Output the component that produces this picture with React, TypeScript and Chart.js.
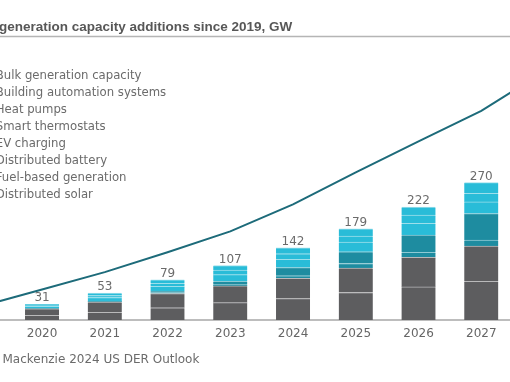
import React, { useEffect, useRef } from 'react';
import { Chart, registerables } from 'chart.js';

Chart.register(...registerables);

// ---- data ----
const years = ['2019', '2020', '2021', '2022', '2023', '2024', '2025', '2026', '2027', '2028'];
const distributedSolar = [null, 9, 15, 24, 34, 42, 54, 65, 76, null];
const fuelBasedGeneration = [null, 13, 20, 28, 33, 40, 48, 58, 69, null];
const distributedBattery = [null, 0.5, 1, 2, 3, 5, 9, 10, 12, null];
const evCharging = [null, 0.5, 1, 3, 6, 16, 23, 34, 52, null];
const smartThermostats = [null, 4, 7, 9, 13, 16, 19, 23, 23, null];
const heatPumps = [null, 2, 4, 6, 9, 11, 12, 16, 17, null];
const buildingAutomation = [null, 2, 5, 7, 9, 12, 14, 16, 21, null];
const bulkGeneration = [26, 60, 94, 133, 174, 227, 290, 351, 411, 488];

const titleText = 'generation capacity additions since 2019, GW';
const sourcePrefix = 'Source: Wood ';
const sourceText = 'Source: Wood Mackenzie 2024 US DER Outlook';

// ---- layout (canvas is wider than the visible window and shifted left) ----
const OFFSET = 150;
const CW = 760;
const CH = 382;

const GRAY = '#5d5d5f';
const TEAL = '#1e8ca0';
const BLUE = '#29bcd8';
const GRAY_SEP = '#b9b9ba';
const TEAL_SEP = '#8fcad4';
const BLUE_SEP = '#9ddfeb';
const LINE = '#1d6b7a';

const barSeries = [
  { label: 'Distributed solar', data: distributedSolar, color: GRAY, sep: GRAY_SEP },
  { label: 'Fuel-based generation', data: fuelBasedGeneration, color: GRAY, sep: GRAY_SEP },
  { label: 'Distributed battery', data: distributedBattery, color: TEAL, sep: TEAL_SEP },
  { label: 'EV charging', data: evCharging, color: TEAL, sep: TEAL_SEP },
  { label: 'Smart thermostats', data: smartThermostats, color: BLUE, sep: BLUE_SEP },
  { label: 'Heat pumps', data: heatPumps, color: BLUE, sep: BLUE_SEP },
  { label: 'Building automation systems', data: buildingAutomation, color: BLUE, sep: BLUE_SEP },
];

const decorPlugin = {
  id: 'decor',
  afterDraw(chart: any) {
    const ctx = chart.ctx;
    ctx.save();
    ctx.textAlign = 'left';
    ctx.textBaseline = 'alphabetic';
    ctx.font = 'bold 13.5px "Liberation Sans"';
    ctx.fillStyle = '#575757';
    ctx.fillText(titleText, OFFSET - 1, 31);
    ctx.strokeStyle = '#b5b5b5';
    ctx.lineWidth = 1.5;
    ctx.beginPath();
    ctx.moveTo(0, 36.5);
    ctx.lineTo(chart.width, 36.5);
    ctx.stroke();
    ctx.font = '12px "DejaVu Sans"';
    ctx.fillStyle = '#6b6b6b';
    const pw = ctx.measureText(sourcePrefix).width;
    ctx.fillText(sourceText, OFFSET + 2.5 - pw, 362.5);
    ctx.restore();
  },
};

const totalsPlugin = {
  id: 'totals',
  afterDatasetsDraw(chart: any) {
    const ctx = chart.ctx;
    const xs = chart.scales.x;
    const ys = chart.scales.y;
    ctx.save();
    ctx.font = '12px "DejaVu Sans"';
    ctx.fillStyle = '#6b6b6b';
    ctx.textAlign = 'center';
    ctx.textBaseline = 'alphabetic';
    years.forEach((_, i) => {
      let total = 0;
      let has = false;
      barSeries.forEach((s) => {
        const v = s.data[i];
        if (v != null) {
          total += v;
          has = true;
        }
      });
      if (!has) return;
      const x = xs.getPixelForValue(i);
      const y = ys.getPixelForValue(total);
      ctx.fillText(String(Math.round(total)), x, y - 3);
    });
    ctx.restore();
  },
};

export default function App() {
  const ref = useRef<HTMLCanvasElement | null>(null);

  useEffect(() => {
    if (!ref.current) return;
    const datasets: any[] = barSeries.map((s) => ({
      type: 'bar',
      label: s.label,
      data: s.data,
      backgroundColor: s.color,
      borderColor: s.sep,
      borderWidth: { top: 1, left: 0, right: 0, bottom: 0 },
      borderSkipped: false,
      barThickness: 34,
      yAxisID: 'y',
    }));
    datasets.push({
      type: 'line',
      label: 'Bulk generation capacity',
      data: bulkGeneration,
      borderColor: LINE,
      backgroundColor: LINE,
      borderWidth: 2,
      pointRadius: 0,
      tension: 0,
      fill: false,
      yAxisID: 'y2',
    });

    const chart = new Chart(ref.current, {
      type: 'bar',
      data: { labels: years, datasets },
      options: {
        responsive: false,
        animation: false,
        events: [],
        layout: { padding: { left: 97.9, right: 34.6, top: 65.5, bottom: 33.6 } },
        scales: {
          x: {
            stacked: true,
            grid: { display: false, drawTicks: false },
            border: { display: true, color: '#bdbdbd', width: 2 },
            ticks: { color: '#666666', font: { family: 'DejaVu Sans', size: 12 }, padding: 7, maxRotation: 0, autoSkip: false },
          },
          y: { stacked: true, display: false, min: 0, max: 500 },
          y2: { display: false, min: 0, max: 500 },
        },
        plugins: {
          title: { display: false },
          tooltip: { enabled: false },
          legend: {
            position: 'chartArea',
            align: 'start',
            reverse: true,
            title: { display: true, text: '', font: { size: 10 }, padding: { top: 53.5, bottom: 0 } },
            labels: {
              boxWidth: 38,
              boxHeight: 13,
              padding: 4,
              color: '#6b6b6b',
              font: { family: 'DejaVu Sans', size: 11.7 },
            },
          },
        },
      } as any,
      plugins: [decorPlugin, totalsPlugin],
    });
    return () => chart.destroy();
  }, []);

  return (
    <div style={{ position: 'fixed', left: 0, top: 0, width: 510, height: 382, overflow: 'hidden', background: '#ffffff' }}>
      <canvas
        ref={ref}
        width={CW}
        height={CH}
        style={{ position: 'absolute', left: -OFFSET, top: 0, width: CW, height: CH }}
      />
    </div>
  );
}
